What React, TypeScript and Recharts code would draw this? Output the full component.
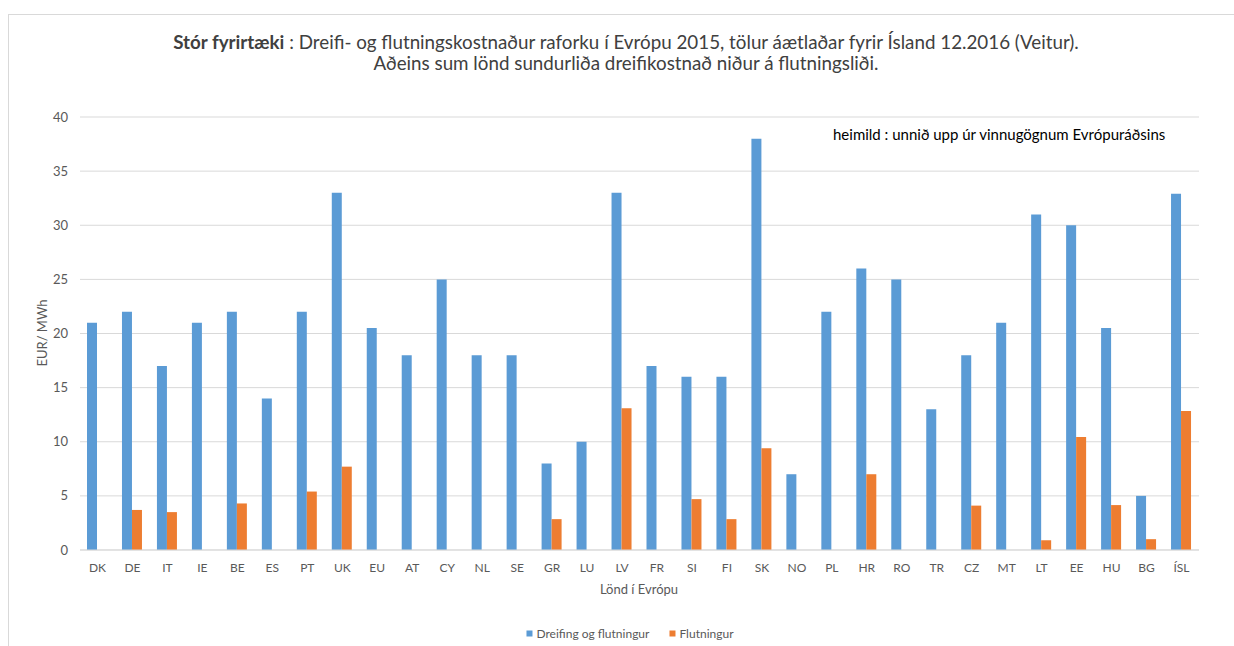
import React from 'react';
import { BarChart, Bar, XAxis, YAxis, CartesianGrid } from 'recharts';

const countries = [
  'DK', 'DE', 'IT', 'IE', 'BE', 'ES', 'PT', 'UK', 'EU', 'AT', 'CY', 'NL', 'SE', 'GR', 'LU', 'LV',
  'FR', 'SI', 'FI', 'SK', 'NO', 'PL', 'HR', 'RO', 'TR', 'CZ', 'MT', 'LT', 'EE', 'HU', 'BG', 'ÍSL',
];
const dreifing = [
  21, 22, 17, 21, 22, 14, 22, 33, 20.5, 18, 25, 18, 18, 8, 10, 33,
  17, 16, 16, 38, 7, 22, 26, 25, 13, 18, 21, 31, 30, 20.5, 5, 32.9,
];
const flutningur = [
  null, 3.7, 3.5, null, 4.3, null, 5.4, 7.7, null, null, null, null, null, 2.85, null, 13.1,
  null, 4.7, 2.85, 9.4, null, null, 7.0, null, null, 4.1, null, 0.9, 10.45, 4.15, 1.0, 12.85,
];
const yTicks = [0, 5, 10, 15, 20, 25, 30, 35, 40];

const BLUE = '#5B9BD5';
const ORANGE = '#ED7D31';
const TEXT = '#595959';
const FONT = 'Lato, "Open Sans", sans-serif';

const data = countries.map((c, i) => ({ land: c, dreifing: dreifing[i], flutningur: flutningur[i] }));

const App: React.FC = () => {
  return (
    <div style={{ position: 'absolute', left: 0, top: 0, width: 1234, height: 646, background: '#fff', fontFamily: FONT, overflow: 'hidden' }}>
      <div style={{ position: 'absolute', left: 8, top: 14, width: 1240, height: 660, border: '1.5px solid #d9d9d9', boxSizing: 'border-box' }} />
      <div style={{ position: 'absolute', left: 0, width: 1252, top: 31, textAlign: 'center', fontSize: 18.8, lineHeight: '21px', color: '#404040' }}>
        <span style={{ fontWeight: 'bold' }}>Stór fyrirtæki</span> : Dreifi- og flutningskostnaður raforku í Evrópu 2015, tölur áætlaðar fyrir Ísland 12.2016 (Veitur).
        <br />
        Aðeins sum lönd sundurliða dreifikostnað niður á flutningsliði.
      </div>
      <div style={{ position: 'absolute', left: 833, top: 125, fontSize: 15, color: '#000' }}>
        heimild : unnið upp úr vinnugögnum Evrópuráðsins
      </div>
      <BarChart
        width={1234}
        height={646}
        data={data}
        margin={{ top: 117, right: 35, bottom: 66, left: 0 }}
        barSize={10}
        barGap={0}
        style={{ position: 'absolute', left: 0, top: 0 }}
      >
        <CartesianGrid vertical={false} stroke="#d9d9d9" />
        <XAxis
          dataKey="land"
          interval={0}
          height={30}
          axisLine={{ stroke: '#d9d9d9' }}
          tickLine={false}
          tickMargin={7}
          tick={{ fill: TEXT, fontSize: 12, fontFamily: FONT }}
        />
        <YAxis
          width={80}
          domain={[0, 40]}
          ticks={yTicks}
          axisLine={false}
          tickLine={false}
          tickMargin={6}
          tick={{ fill: TEXT, fontSize: 13, fontFamily: FONT }}
        />
        <Bar dataKey="dreifing" fill={BLUE} isAnimationActive={false} />
        <Bar dataKey="flutningur" fill={ORANGE} isAnimationActive={false} />
      </BarChart>
      <div style={{ position: 'absolute', left: 42, top: 333, transform: 'translate(-50%, -50%) rotate(-90deg)', fontSize: 13, color: TEXT, whiteSpace: 'nowrap' }}>
        EUR/ MWh
      </div>
      <div style={{ position: 'absolute', left: 639, top: 589, transform: 'translate(-50%, -50%)', fontSize: 13, color: TEXT, whiteSpace: 'nowrap' }}>
        Lönd í Evrópu
      </div>
      <div style={{ position: 'absolute', left: 630, top: 633, transform: 'translate(-50%, -50%)', fontSize: 12, color: TEXT, whiteSpace: 'nowrap', display: 'flex', alignItems: 'center' }}>
        <span style={{ display: 'inline-block', width: 6, height: 6, background: BLUE, marginRight: 4 }} />
        Dreifing og flutningur
        <span style={{ display: 'inline-block', width: 6, height: 6, background: ORANGE, marginLeft: 20, marginRight: 4 }} />
        Flutningur
      </div>
    </div>
  );
};

export default App;
